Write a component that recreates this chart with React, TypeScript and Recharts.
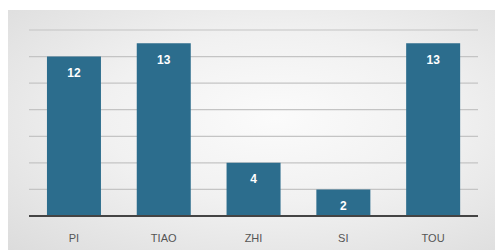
import { BarChart, Bar, XAxis, YAxis, CartesianGrid, LabelList } from "recharts";

// Category labels and counts
const categories = ["PI", "TIAO", "ZHI", "SI", "TOU"];
const counts = [12, 13, 4, 2, 13];
const yTicks = [0, 2, 4, 6, 8, 10, 12, 14];

const data = categories.map((name, i) => ({ name, value: counts[i] }));

const BAR_COLOR = "#2c6d8d";

const App = () => {
  return (
    <div style={{ position: "absolute", left: 0, top: 0, width: 495, height: 251, background: "#fff", overflow: "hidden" }}>
      {/* grey gradient panel behind the chart */}
      <div
        style={{
          position: "absolute",
          left: 8,
          top: 10,
          width: 487,
          height: 240,
          background:
            "radial-gradient(ellipse at 55% 45%, #fbfbfb 0%, #f1f1f1 45%, #dcdcdc 100%)",
        }}
      />
      <div style={{ position: "absolute", left: 0, top: 0 }}>
        <BarChart
          width={495}
          height={251}
          data={data}
          margin={{ top: 30, right: 17, bottom: 5, left: 29 }}
          barCategoryGap="20%"
        >
          <CartesianGrid vertical={false} stroke="#c4c4c4" strokeWidth={1.2} />
          <XAxis
            dataKey="name"
            axisLine={{ stroke: "#444", strokeWidth: 2 }}
            tickLine={false}
            height={30}
            tick={{ fill: "#555", fontSize: 11, fontFamily: "Liberation Sans, Arial, sans-serif" }}
            tickMargin={12}
          />
          <YAxis hide domain={[0, 14]} ticks={yTicks} />
          <Bar dataKey="value" fill={BAR_COLOR} isAnimationActive={false}>
            <LabelList
              dataKey="value"
              position="insideTop"
              offset={12}
              fill="#fff"
              fontSize={12}
              fontWeight="bold"
              fontFamily="Liberation Sans, Arial, sans-serif"
            />
          </Bar>
        </BarChart>
      </div>
    </div>
  );
};

export default App;
